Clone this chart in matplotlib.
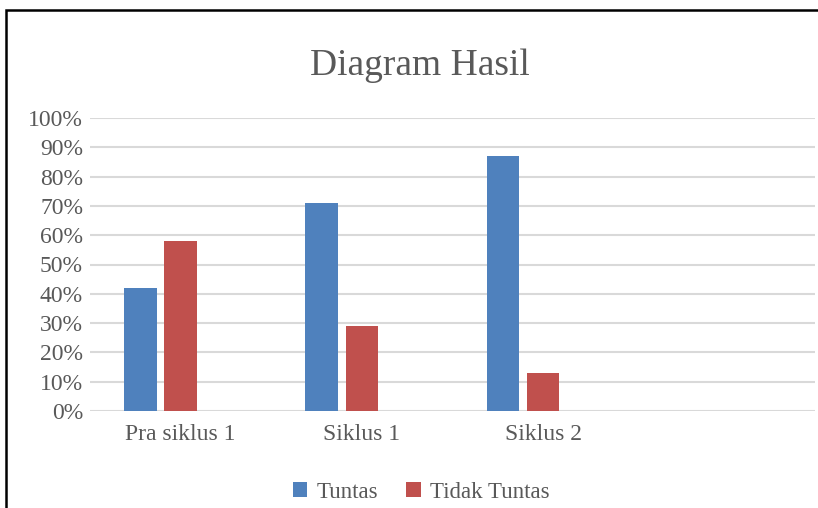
import numpy as np
import matplotlib.pyplot as plt
from matplotlib.patches import Rectangle

plt.rcParams['font.family'] = ['Liberation Serif', 'DejaVu Serif']

# data
categories = ['Pra siklus 1', 'Siklus 1', 'Siklus 2', '']
tuntas = [0.42, 0.71, 0.87]
tidak_tuntas = [0.58, 0.29, 0.13]
series_names = ['Tuntas', 'Tidak Tuntas']

blue = '#4F81BD'
red = '#C0504D'
txt = '#595959'

fig = plt.figure(figsize=(8.18, 5.08), dpi=100)
ax = fig.add_axes([90/818, 97/508, 725/818, 293/508])

# outer frame of the chart box (cut off on right and bottom)
fig.patches.append(Rectangle((6/818, -0.1), 1.2, 1 - 10/508 + 0.1,
                             transform=fig.transFigure, fill=False,
                             edgecolor='black', linewidth=1.8))

x = np.arange(3)
w = 0.18
ax.bar(x - 0.222, tuntas, w, color=blue, label=series_names[0], zorder=3)
ax.bar(x, tidak_tuntas, w, color=red, label=series_names[1], zorder=3)

ax.set_xlim(-0.5, 3.5)
ax.set_ylim(0, 1.0)
ax.set_yticks(np.arange(0, 1.01, 0.1))
ax.set_yticklabels(['%d%%' % round(v * 100) for v in np.arange(0, 1.01, 0.1)])
ax.set_xticks(np.arange(4))
ax.set_xticklabels(categories)

ax.grid(axis='y', color='#D9D9D9', linewidth=1.5, zorder=0)
for s in ax.spines.values():
    s.set_visible(False)
ax.tick_params(axis='both', length=0, labelsize=17, colors=txt)
ax.tick_params(axis='y', pad=5)
ax.tick_params(axis='x', pad=9)

fig.text(420/818, 1 - 66/508, 'Diagram Hasil', ha='center', va='center',
         fontsize=27, color=txt)

leg = fig.legend(loc='center', bbox_to_anchor=(421/818, 1 - 492/508), ncol=2,
                 frameon=False, fontsize=16.5, handlelength=0.65, handleheight=0.65,
                 handletextpad=0.4, columnspacing=1.2, labelcolor=txt)

fig.savefig('out.png', dpi=100)
